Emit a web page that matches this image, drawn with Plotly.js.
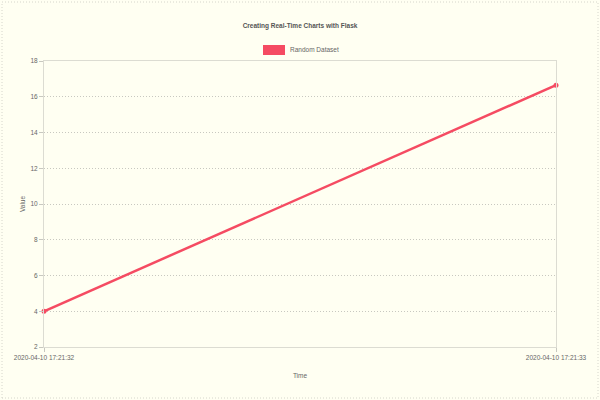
<!DOCTYPE html>
<html>
<head>
<meta charset="utf-8">
<script src="https://cdn.plot.ly/plotly-3.0.1.min.js"></script>
<style>
  html, body { margin: 0; padding: 0; background: #fffff2; }
  #chart { width: 600px; height: 400px; }
</style>
</head>
<body>
<div id="chart"></div>
<script>
// data
const times = ['2020-04-10 17:21:32', '2020-04-10 17:21:33'];
const values = [4, 16.65];
const yTicks = [2, 4, 6, 8, 10, 12, 14, 16, 18];
const seriesName = 'Random Dataset';

const lineColor = '#f54b62';
const textColor = '#666';
const gridColor = '#c8c8c0';
const fontSize = 6.5;

const trace = {
  x: times,
  y: values,
  type: 'scatter',
  mode: 'lines+markers',
  name: seriesName,
  line: { color: lineColor, width: 2.5 },
  marker: { color: lineColor, size: 5 },
  cliponaxis: false,
  showlegend: false,
  hoverinfo: 'x+y',
};

// plot area in pixels: x 44..556, y 61..347
const W = 512, H = 286;

const axisCommon = {
  showgrid: true,
  gridcolor: gridColor,
  griddash: '1px,2px',
  zeroline: false,
  showline: true,
  mirror: true,
  linecolor: '#dcdcd2',
  linewidth: 1,
  ticks: 'outside',
  ticklen: 4,
  tickcolor: gridColor,
  tickfont: { size: fontSize, color: textColor },
  fixedrange: true,
};

const layout = {
  width: 600,
  height: 400,
  paper_bgcolor: '#fffff2',
  plot_bgcolor: 'rgba(0,0,0,0)',
  margin: { l: 44, r: 44, t: 61, b: 53 },
  font: { family: 'Liberation Sans, Arial, sans-serif', size: fontSize, color: textColor },
  title: {
    text: '<b>Creating Real-Time Charts with Flask</b>',
    font: { size: fontSize, color: '#555' },
    x: 0.5, xanchor: 'center',
    y: 1 - 26 / 400, yanchor: 'middle',
  },
  xaxis: Object.assign({}, axisCommon, {
    type: 'date',
    range: times,
    tickvals: times,
    ticktext: times,
    title: { text: 'Time', font: { size: fontSize, color: textColor }, standoff: 13 },
  }),
  yaxis: Object.assign({}, axisCommon, {
    range: [yTicks[0], yTicks[yTicks.length - 1]],
    tickvals: yTicks,
    title: { text: 'Value', font: { size: fontSize, color: textColor }, standoff: 4 },
  }),
  shapes: [
    // legend swatch
    {
      type: 'rect', xref: 'paper', yref: 'paper',
      x0: (263 - 44) / W, x1: (285 - 44) / W,
      y0: 1 + (61 - 55) / H, y1: 1 + (61 - 45) / H,
      fillcolor: lineColor, line: { width: 0 },
    },
    // dotted frame round the picture
    {
      type: 'rect', xref: 'paper', yref: 'paper',
      x0: -42 / W, x1: 1 + 42 / W,
      y0: -51 / H, y1: 1 + 59 / H,
      line: { color: '#d6d6cc', width: 1, dash: '1px,2px' },
    },
  ],
  annotations: [
    {
      text: seriesName, xref: 'paper', yref: 'paper',
      x: (288 - 44) / W, xanchor: 'left',
      y: 1 + (61 - 50) / H, yanchor: 'middle',
      showarrow: false,
      font: { size: fontSize, color: textColor },
    },
  ],
};

Plotly.newPlot('chart', [trace], layout, { displayModeBar: false, staticPlot: true });
</script>
</body>
</html>
